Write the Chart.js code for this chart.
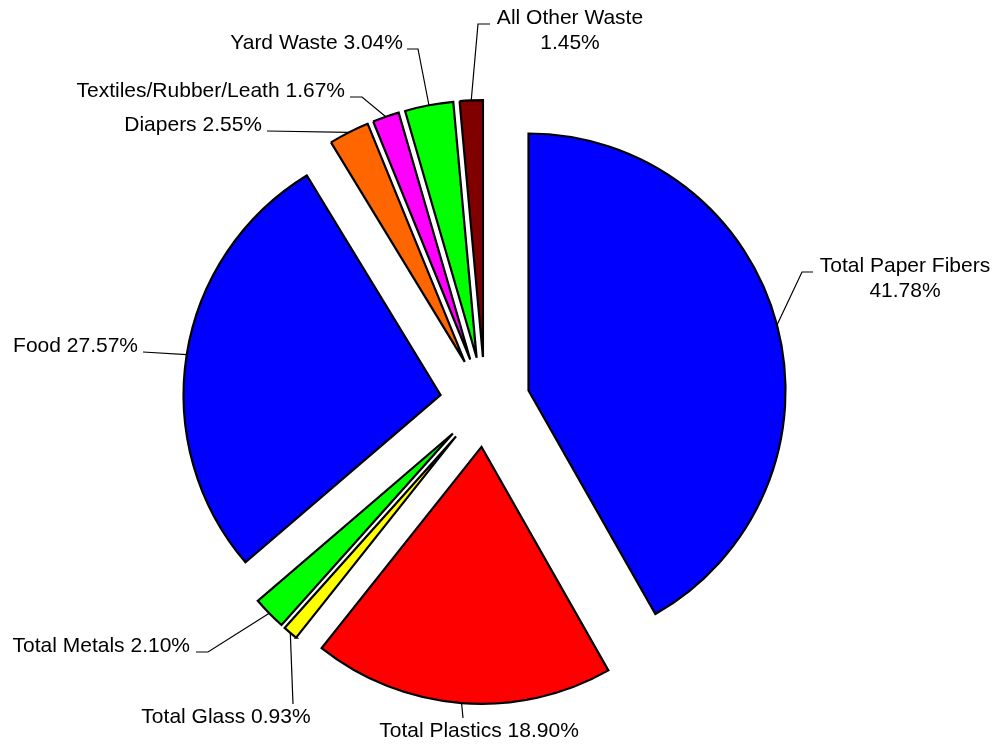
<!DOCTYPE html>
<html>
<head>
<meta charset="utf-8">
<script src="https://cdn.jsdelivr.net/npm/chart.js@4/dist/chart.umd.min.js"></script>
<style>
  html, body { margin: 0; padding: 0; background: #fff; }
  #wrap { width: 1000px; height: 747px; position: relative; }
</style>
</head>
<body>
<div id="wrap"><canvas id="c" width="1000" height="747"></canvas></div>
<script>
// ---- data ----
const categories = ['Total Paper Fibers', 'Total Plastics', 'Total Glass', 'Total Metals', 'Food', 'Diapers', 'Textiles/Rubber/Leath', 'Yard Waste', 'All Other Waste'];
const shares = [41.78, 18.90, 0.93, 2.10, 27.57, 2.55, 1.67, 3.04, 1.45];
const sliceColors = ['#0000FF', '#FF0000', '#FFFF00', '#00FF00', '#0000FF', '#FF6600', '#FF00FF', '#00FF00', '#800000'];

// ---- layout / styling ----
const RADIUS = 257;
const EXPLODE = 45;           // px each slice is pulled out along its mid angle
const FONT = '21px "Liberation Sans", Arial, sans-serif';
// label placement (leader elbow points and text anchor), one per slice
const labelLayout = [
  { path: [[802, 272], [813, 272]], x: 905, y: 272, align: 'center', twoLines: true },
  { path: [[463, 718]], x: 479, y: 737, align: 'center' },
  { path: [[293, 704]], x: 226, y: 723, align: 'center' },
  { path: [[208, 652], [196, 652]], x: 190, y: 652, align: 'right' },
  { path: [[143, 352]], x: 138, y: 352, align: 'right' },
  { path: [[267, 131]], x: 262, y: 131, align: 'right' },
  { path: [[362, 97], [350, 97]], x: 345, y: 97, align: 'right' },
  { path: [[418, 49], [407, 49]], x: 403, y: 49, align: 'right' },
  { path: [[478, 24], [490, 24]], x: 570, y: 24, align: 'center', twoLines: true }
];

// explode every slice outward along its own mid angle
const explodePlugin = {
  id: 'explode',
  afterDatasetUpdate(chart, args) {
    const meta = chart.getDatasetMeta(args.index);
    meta.data.forEach(arc => {
      const mid = (arc.startAngle + arc.endAngle) / 2;
      arc.x = arc.x + Math.cos(mid) * EXPLODE;
      arc.y = arc.y + Math.sin(mid) * EXPLODE;
    });
  }
};

const labelPlugin = {
  id: 'leaderLabels',
  afterDatasetsDraw(chart) {
    const ctx = chart.ctx;
    const meta = chart.getDatasetMeta(0);
    ctx.save();
    ctx.font = FONT;
    ctx.fillStyle = '#000';
    ctx.strokeStyle = '#000';
    ctx.lineWidth = 1.2;
    ctx.textBaseline = 'alphabetic';
    meta.data.forEach((arc, i) => {
      const mid = (arc.startAngle + arc.endAngle) / 2;
      const ex = arc.x + Math.cos(mid) * arc.outerRadius;
      const ey = arc.y + Math.sin(mid) * arc.outerRadius;
      const L = labelLayout[i];
      ctx.beginPath();
      ctx.moveTo(ex, ey);
      L.path.forEach(p => ctx.lineTo(p[0], p[1]));
      ctx.stroke();
      const val = shares[i].toFixed(2) + '%';
      ctx.textAlign = L.align;
      if (L.twoLines) {
        ctx.fillText(categories[i], L.x, L.y);
        ctx.fillText(val, L.x, L.y + 25);
      } else {
        ctx.fillText(categories[i] + ' ' + val, L.x, L.y);
      }
    });
    ctx.restore();
  }
};

new Chart(document.getElementById('c'), {
  type: 'pie',
  data: {
    labels: categories,
    datasets: [{
      data: shares,
      backgroundColor: sliceColors,
      borderColor: '#000000',
      borderWidth: 2.2,
      borderJoinStyle: 'miter',
      offset: 0
    }]
  },
  options: {
    responsive: false,
    devicePixelRatio: 1,
    animation: false,
    radius: RADIUS,
    layout: { padding: { left: 0, right: 30, top: 57, bottom: 0 } },
    plugins: {
      legend: { display: false },
      tooltip: { enabled: false },
      title: { display: false }
    },
    events: []
  },
  plugins: [explodePlugin, labelPlugin]
});
</script>
</body>
</html>
